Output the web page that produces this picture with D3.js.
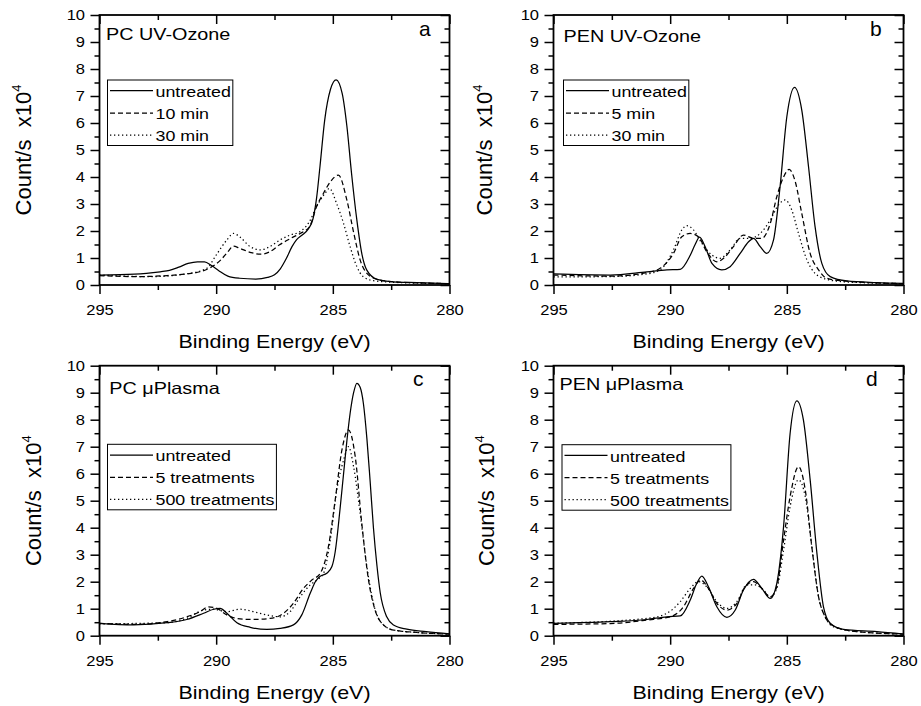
<!DOCTYPE html>
<html>
<head>
<meta charset="utf-8">
<script src="https://cdn.jsdelivr.net/npm/d3@7"></script>
<style>
  body { margin: 0; background: #fff; }
  text { font-family: "Liberation Sans", Arial, Helvetica, sans-serif; fill: #000; }
</style>
</head>
<body>
<svg id="fig" width="921" height="706"></svg>
<script>
// ---- C 1s spectra: binding energy (eV) and intensity (counts/s x 10^4) ----

// (a) PC, UV-Ozone
const pcUvUntreatedE = [295, 293.5, 292.4, 292.0, 291.6, 291.2, 290.8, 290.5, 290.2, 289.9, 289.5, 289.0, 288.3, 287.8, 287.5, 287.25, 287.0, 286.75, 286.55, 286.3, 286.05, 285.85, 285.7, 285.55, 285.35, 285.1, 284.86, 284.6, 284.4, 284.2, 283.97, 283.76, 283.55, 283.1, 282.4, 281.4, 280];
const pcUvUntreatedY = [0.37, 0.40, 0.49, 0.54, 0.66, 0.80, 0.86, 0.86, 0.72, 0.54, 0.33, 0.25, 0.22, 0.28, 0.38, 0.60, 0.97, 1.42, 1.68, 1.86, 2.08, 2.45, 3.2, 4.4, 6.1, 7.25, 7.6, 7.1, 5.9, 4.15, 2.4, 1.17, 0.56, 0.21, 0.12, 0.09, 0.05];
const pcUv10E = [295, 293.5, 292.1, 291.3, 290.7, 290.3, 289.8, 289.5, 289.26, 289.0, 288.5, 288.1, 287.7, 287.3, 286.8, 286.4, 286.0, 285.7, 285.4, 285.1, 284.76, 284.4, 284.1, 283.83, 283.54, 283.1, 282.4, 281.4, 280];
const pcUv10Y = [0.35, 0.31, 0.35, 0.41, 0.49, 0.62, 0.93, 1.23, 1.44, 1.36, 1.20, 1.14, 1.23, 1.48, 1.73, 1.91, 2.16, 2.9, 3.4, 3.83, 4.07, 3.15, 1.91, 0.93, 0.43, 0.21, 0.12, 0.08, 0.05];
const pcUv30E = [295, 292.8, 291.3, 290.4, 290.0, 289.54, 289.26, 289.0, 288.54, 288.1, 287.7, 287.26, 286.83, 286.4, 286.0, 285.7, 285.33, 285.15, 284.83, 284.54, 284.26, 283.97, 283.7, 283.26, 282.4, 280];
const pcUv30Y = [0.37, 0.31, 0.41, 0.62, 1.11, 1.67, 1.91, 1.79, 1.42, 1.30, 1.42, 1.67, 1.85, 1.98, 2.35, 2.9, 3.4, 3.58, 3.0, 2.28, 1.42, 0.68, 0.31, 0.16, 0.10, 0.05];

// (b) PEN, UV-Ozone
const penUvUntreatedE = [295, 292.57, 291, 290.14, 289.57, 289.14, 288.93, 288.74, 288.5, 288.21, 287.79, 287.43, 287.0, 286.64, 286.43, 286.14, 285.86, 285.57, 285.29, 285.0, 284.67, 284.36, 284.07, 283.79, 283.5, 283.14, 282.43, 281.14, 280];
const penUvUntreatedY = [0.41, 0.37, 0.49, 0.56, 0.58, 1.1, 1.5, 1.77, 1.42, 0.80, 0.56, 0.68, 1.17, 1.6, 1.73, 1.42, 1.17, 1.67, 3.64, 6.23, 7.32, 6.48, 4.38, 2.16, 0.80, 0.31, 0.15, 0.09, 0.06];
const penUv5E = [295, 292.57, 291, 290.43, 289.86, 289.5, 289.14, 288.79, 288.43, 288, 287.71, 287.29, 286.86, 286.43, 286.07, 285.71, 285.43, 285.14, 284.9, 284.64, 284.36, 284.0, 283.64, 283.29, 282.57, 280];
const penUv5Y = [0.37, 0.33, 0.46, 0.62, 1.17, 1.79, 1.91, 1.79, 1.23, 0.86, 0.99, 1.42, 1.85, 1.73, 1.73, 2.28, 3.27, 4.0, 4.28, 3.83, 2.65, 1.17, 0.56, 0.25, 0.15, 0.05];
const penUv30E = [295, 292.57, 291, 290.43, 289.86, 289.5, 289.29, 289.0, 288.64, 288.21, 287.86, 287.43, 287.0, 286.57, 286.14, 285.71, 285.36, 285.07, 284.79, 284.5, 284.14, 283.79, 283.29, 282.57, 280];
const penUv30Y = [0.30, 0.31, 0.41, 0.56, 1.30, 2.04, 2.20, 2.04, 1.54, 1.11, 0.99, 1.30, 1.73, 1.73, 1.91, 2.41, 2.96, 3.15, 2.78, 1.91, 0.93, 0.43, 0.21, 0.12, 0.05];

// (c) PC, uPlasma
const pcPlUntreatedE = [295, 293.54, 292.1, 291.26, 290.54, 290.11, 289.83, 289.54, 289.11, 288.54, 287.83, 287.26, 286.69, 286.33, 285.97, 285.75, 285.54, 285.26, 285.04, 284.9, 284.69, 284.54, 284.4, 284.26, 284.11, 283.97, 283.83, 283.69, 283.54, 283.4, 283.26, 283.11, 282.97, 282.69, 282.4, 281.83, 281.0, 280];
const pcPlUntreatedY = [0.46, 0.40, 0.48, 0.60, 0.83, 0.98, 1.01, 0.83, 0.48, 0.31, 0.23, 0.27, 0.40, 0.77, 1.57, 2.0, 2.2, 2.31, 2.56, 3.1, 4.7, 6.0, 7.2, 8.23, 9.0, 9.35, 9.2, 8.6, 7.3, 5.7, 4.0, 2.6, 1.6, 0.70, 0.40, 0.24, 0.15, 0.07];
const pcPl5E = [295, 293.54, 292.1, 291.26, 290.69, 290.33, 289.97, 289.54, 289.11, 288.4, 287.69, 287.11, 286.69, 286.26, 285.9, 285.54, 285.19, 284.9, 284.61, 284.33, 284.04, 283.76, 283.47, 283.19, 282.83, 282.4, 281.4, 280];
const pcPl5Y = [0.46, 0.42, 0.52, 0.70, 0.89, 1.07, 1.01, 0.77, 0.64, 0.60, 0.64, 0.83, 1.20, 1.75, 2.06, 2.31, 3.3, 5.02, 6.88, 7.62, 6.63, 4.16, 2.06, 0.95, 0.40, 0.21, 0.12, 0.06];
const pcPl500E = [295, 292.1, 291.26, 290.54, 290.11, 289.54, 288.97, 288.4, 287.83, 287.26, 286.83, 286.4, 285.97, 285.69, 285.4, 285.11, 284.83, 284.54, 284.33, 284.11, 283.83, 283.54, 283.26, 282.9, 282.4, 281.4, 280];
const pcPl500Y = [0.44, 0.48, 0.64, 0.95, 0.98, 0.89, 0.98, 0.89, 0.77, 0.70, 0.89, 1.44, 1.88, 2.06, 2.31, 3.54, 5.4, 6.5, 7.0, 6.26, 4.53, 2.56, 1.20, 0.46, 0.21, 0.12, 0.06];

// (d) PEN, uPlasma
const penPlUntreatedE = [295, 292.57, 291, 290.14, 289.57, 289.14, 288.86, 288.64, 288.36, 288, 287.57, 287.21, 286.86, 286.43, 286.07, 285.71, 285.43, 285.14, 284.86, 284.57, 284.29, 284, 283.71, 283.43, 283.14, 282.57, 281.14, 280];
const penPlUntreatedY = [0.46, 0.52, 0.60, 0.70, 0.73, 1.32, 1.94, 2.21, 1.81, 1.07, 0.68, 0.95, 1.69, 2.09, 1.75, 1.38, 1.94, 4.04, 7.49, 8.7, 7.99, 5.77, 3.05, 1.07, 0.46, 0.23, 0.15, 0.06];
const penPl5E = [295, 292.57, 291, 290, 289.43, 289, 288.69, 288.36, 288, 287.57, 287.14, 286.79, 286.43, 286.07, 285.71, 285.43, 285.14, 284.86, 284.5, 284.21, 283.93, 283.64, 283.36, 283.0, 282.0, 280];
const penPl5Y = [0.42, 0.45, 0.58, 0.70, 1.07, 1.75, 2.06, 1.75, 1.20, 0.95, 1.20, 1.81, 2.0, 1.75, 1.44, 1.81, 3.54, 5.15, 6.26, 5.4, 3.3, 1.44, 0.70, 0.36, 0.15, 0.06];
const penPl500E = [295, 291, 290.14, 289.57, 289.14, 288.79, 288.43, 288, 287.57, 287.14, 286.71, 286.36, 286, 285.71, 285.43, 285.14, 284.86, 284.5, 284.21, 283.93, 283.64, 283.36, 283.0, 282.0, 280];
const penPl500Y = [0.46, 0.64, 0.83, 1.26, 1.75, 2.0, 1.81, 1.26, 1.01, 1.26, 1.88, 1.88, 1.69, 1.44, 1.75, 3.17, 4.78, 5.77, 5.15, 3.3, 1.44, 0.70, 0.33, 0.15, 0.06];

// ---- axis ticks and labels ----
const xMajorTicks = [295, 290, 285, 280];
const xMinorTicks = [292.5, 287.5, 282.5];
const yMajorTicks = [0, 1, 2, 3, 4, 5, 6, 7, 8, 9, 10];
const yMinorTicks = [0.5, 1.5, 2.5, 3.5, 4.5, 5.5, 6.5, 7.5, 8.5, 9.5];
const xTitle = "Binding Energy (eV)";
const yTitle = "Count/s  x10";
const yTitleExp = "4";

const panelTitles = ["PC UV-Ozone", "PEN UV-Ozone", "PC \u03bcPlasma", "PEN \u03bcPlasma"];
const panelLetters = ["a", "b", "c", "d"];
const legendUvPc = ["untreated", "10 min", "30 min"];
const legendUvPen = ["untreated", "5 min", "30 min"];
const legendPlasma = ["untreated", "5 treatments", "500 treatments"];

// ---- layout ----
const W = 350, H = 270;
const FONT = '"Liberation Sans", Arial, Helvetica, sans-serif';
const dashStyles = [null, "5,3", "1.3,2.7"];

const panels = [
  { ox: 99.5, oy: 15, title: panelTitles[0], letter: panelLetters[0], legend: legendUvPc,
    series: [[pcUvUntreatedE, pcUvUntreatedY], [pcUv10E, pcUv10Y], [pcUv30E, pcUv30Y]],
    titlePos: [6.5, 25], letterPos: [319.5, 21], legendPos: [8, 65], ylabX: -68.5 },
  { ox: 553.5, oy: 15, title: panelTitles[1], letter: panelLetters[1], legend: legendUvPen,
    series: [[penUvUntreatedE, penUvUntreatedY], [penUv5E, penUv5Y], [penUv30E, penUv30Y]],
    titlePos: [10, 27], letterPos: [316.5, 21], legendPos: [10, 65], ylabX: -62 },
  { ox: 99.5, oy: 365.7, title: panelTitles[2], letter: panelLetters[2], legend: legendPlasma,
    series: [[pcPlUntreatedE, pcPlUntreatedY], [pcPl5E, pcPl5Y], [pcPl500E, pcPl500Y]],
    titlePos: [9.8, 28.3], letterPos: [313.5, 20], legendPos: [8, 78.6], ylabX: -59 },
  { ox: 553.5, oy: 365.7, title: panelTitles[3], letter: panelLetters[3], legend: legendPlasma,
    series: [[penPlUntreatedE, penPlUntreatedY], [penPl5E, penPl5Y], [penPl500E, penPl500Y]],
    titlePos: [6, 24.3], letterPos: [312.5, 20], legendPos: [8.5, 79], ylabX: -60 }
];

// Widen glyphs horizontally so text keeps its height but gets the broader look.
// Returns the widened length of the last element.
function widen(sel, k) {
  let last = 0;
  sel.each(function () {
    const w = this.getComputedTextLength();
    if (w > 0) {
      last = w * k;
      this.setAttribute("textLength", last.toFixed(2));
      this.setAttribute("lengthAdjust", "spacingAndGlyphs");
    }
  });
  return last;
}

const svg = d3.select("#fig");
svg.append("rect").attr("width", 921).attr("height", 706).attr("fill", "#fff");

const x = d3.scaleLinear().domain([295, 280]).range([0, W]);
const y = d3.scaleLinear().domain([0, 10]).range([H, 0]);

const line = d3.line()
  .x(d => x(d[0]))
  .y(d => y(d[1]))
  .curve(d3.curveMonotoneX);

function styleAxis(g) {
  g.select(".domain").remove();
  g.attr("font-family", FONT).attr("font-size", 14);
  g.selectAll(".tick line").attr("stroke", "#000").attr("stroke-width", 1.5);
  g.selectAll(".tick text").attr("fill", "#000");
}

panels.forEach(p => {
  const g = svg.append("g").attr("transform", `translate(${p.ox},${p.oy})`);

  // curves
  const clip = "clip-" + p.letter;
  g.append("clipPath").attr("id", clip).append("rect").attr("width", W).attr("height", H);
  const curves = g.append("g").attr("clip-path", `url(#${clip})`);
  p.series.forEach((s, i) => {
    const pts = s[0].map((e, j) => [e, s[1][j]]);
    curves.append("path")
      .attr("d", line(pts))
      .attr("fill", "none")
      .attr("stroke", "#000")
      .attr("stroke-width", 1.25)
      .attr("stroke-dasharray", dashStyles[i]);
  });

  // axes: major + minor ticks; outward on bottom/left, inward on top/right
  const bMaj = g.append("g").attr("transform", `translate(0,${H})`)
    .call(d3.axisBottom(x).tickValues(xMajorTicks).tickSize(9).tickPadding(11).tickFormat(d3.format("d")));
  styleAxis(bMaj);
  widen(bMaj.selectAll(".tick text"), 1.18);
  styleAxis(g.append("g").attr("transform", `translate(0,${H})`)
    .call(d3.axisBottom(x).tickValues(xMinorTicks).tickSize(5).tickFormat("")));
  styleAxis(g.append("g")
    .call(d3.axisTop(x).tickValues(xMajorTicks).tickSize(-9).tickFormat("")));
  styleAxis(g.append("g")
    .call(d3.axisTop(x).tickValues(xMinorTicks).tickSize(-5).tickFormat("")));

  const lMaj = g.append("g")
    .call(d3.axisLeft(y).tickValues(yMajorTicks).tickSize(9).tickPadding(5.5).tickFormat(d3.format("d")));
  styleAxis(lMaj);
  widen(lMaj.selectAll(".tick text"), 1.18);
  styleAxis(g.append("g")
    .call(d3.axisLeft(y).tickValues(yMinorTicks).tickSize(5).tickFormat("")));
  styleAxis(g.append("g").attr("transform", `translate(${W},0)`)
    .call(d3.axisRight(y).tickValues(yMajorTicks).tickSize(-9).tickFormat("")));
  styleAxis(g.append("g").attr("transform", `translate(${W},0)`)
    .call(d3.axisRight(y).tickValues(yMinorTicks).tickSize(-5).tickFormat("")));

  // frame
  g.append("rect").attr("width", W).attr("height", H)
    .attr("fill", "none").attr("stroke", "#000").attr("stroke-width", 1.8);

  // panel title and letter
  widen(g.append("text").attr("x", p.titlePos[0]).attr("y", p.titlePos[1])
    .attr("font-size", 16.5).text(p.title), 1.2);
  g.append("text").attr("x", p.letterPos[0]).attr("y", p.letterPos[1])
    .attr("font-size", 21).text(p.letter);

  // legend
  const lg = g.append("g").attr("transform", `translate(${p.legendPos[0]},${p.legendPos[1]})`);
  const frame = lg.append("rect").attr("height", 65.5)
    .attr("fill", "#fff").attr("stroke", "#000").attr("stroke-width", 1);
  const rowY = [10.7, 33.0, 55.0];
  let maxRight = 0;
  p.legend.forEach((name, i) => {
    lg.append("line").attr("x1", 2.5).attr("x2", 45.5)
      .attr("y1", rowY[i]).attr("y2", rowY[i])
      .attr("stroke", "#000").attr("stroke-width", 1.25)
      .attr("stroke-dasharray", dashStyles[i]);
    const t = lg.append("text").attr("x", 48).attr("y", rowY[i] + 6.2)
      .attr("font-size", 15.5).text(name);
    const len = widen(t, 1.15);
    maxRight = Math.max(maxRight, 48 + len);
  });
  frame.attr("width", maxRight + 2);

  // axis titles
  widen(g.append("text").attr("x", W / 2).attr("y", H + 63)
    .attr("text-anchor", "middle").attr("font-size", 19).text(xTitle), 1.13);
  const yl = g.append("text")
    .attr("transform", `translate(${p.ylabX},${H / 2}) rotate(-90)`)
    .attr("text-anchor", "middle").attr("font-size", 22)
    .style("white-space", "pre");
  yl.append("tspan").text(yTitle);
  yl.append("tspan").attr("font-size", 13).attr("dy", "-0.75em").text(yTitleExp);
});
</script>
</body>
</html>
